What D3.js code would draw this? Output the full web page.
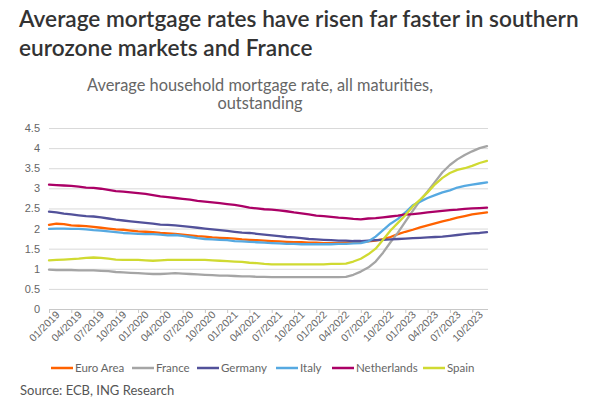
<!DOCTYPE html>
<html>
<head>
<meta charset="utf-8">
<script src="https://cdn.jsdelivr.net/npm/d3@7"></script>
<style>
  body { margin: 0; background: #fff; }
  svg { font-family: Lato, "Open Sans", sans-serif; }
</style>
</head>
<body>
<svg id="chart" width="600" height="417"></svg>
<script>
// monthly observations, 01/2019 .. 12/2023
var months = d3.timeMonth.range(new Date(2019, 0, 1), new Date(2024, 0, 1));
var tickLabels = ["01/2019","04/2019","07/2019","10/2019","01/2020","04/2020","07/2020","10/2020",
    "01/2021","04/2021","07/2021","10/2021","01/2022","04/2022","07/2022","10/2022",
    "01/2023","04/2023","07/2023","10/2023"];
var yTicks = [0, 0.5, 1, 1.5, 2, 2.5, 3, 3.5, 4, 4.5];

var euroArea = [2.09,2.12,2.11,2.08,2.07,2.06,2.04,2.02,2.00,1.98,1.97,1.95,1.93,1.92,1.91,1.89,1.88,1.87,1.85,1.83,
    1.81,1.80,1.78,1.77,1.76,1.75,1.73,1.72,1.71,1.70,1.69,1.68,1.67,1.66,1.66,1.65,1.65,1.64,1.64,1.64,
    1.65,1.66,1.67,1.68,1.70,1.74,1.79,1.86,1.92,1.97,2.03,2.08,2.13,2.18,2.22,2.27,2.31,2.35,2.38,2.40];
var france = [0.98,0.97,0.97,0.97,0.96,0.96,0.96,0.95,0.94,0.92,0.91,0.90,0.89,0.88,0.87,0.87,0.88,0.89,0.88,0.87,
    0.86,0.85,0.84,0.83,0.83,0.82,0.81,0.81,0.80,0.80,0.79,0.79,0.79,0.79,0.79,0.79,0.79,0.79,0.79,0.79,
    0.80,0.85,0.93,1.03,1.18,1.40,1.66,1.90,2.17,2.44,2.70,2.92,3.16,3.40,3.58,3.72,3.83,3.92,4.00,4.05];
var germany = [2.42,2.40,2.37,2.35,2.33,2.31,2.30,2.28,2.25,2.22,2.20,2.18,2.16,2.14,2.12,2.10,2.09,2.08,2.06,2.04,
    2.02,2.00,1.98,1.96,1.94,1.92,1.90,1.89,1.87,1.85,1.83,1.81,1.79,1.78,1.76,1.74,1.73,1.72,1.71,1.70,
    1.70,1.69,1.69,1.70,1.71,1.72,1.73,1.74,1.75,1.76,1.77,1.78,1.79,1.80,1.82,1.84,1.86,1.88,1.89,1.91];
var italy = [1.99,2.00,2.00,1.99,1.99,1.98,1.96,1.95,1.93,1.91,1.89,1.88,1.87,1.86,1.86,1.85,1.83,1.84,1.82,1.79,
    1.76,1.74,1.73,1.72,1.71,1.69,1.68,1.67,1.66,1.65,1.64,1.63,1.62,1.62,1.61,1.61,1.61,1.61,1.61,1.62,
    1.62,1.63,1.64,1.68,1.80,1.96,2.12,2.24,2.40,2.58,2.67,2.76,2.83,2.90,2.95,3.02,3.06,3.09,3.12,3.15];
var netherlands = [3.09,3.08,3.07,3.06,3.04,3.02,3.01,2.99,2.96,2.93,2.92,2.90,2.88,2.86,2.83,2.80,2.78,2.76,2.74,2.72,
    2.69,2.67,2.65,2.63,2.61,2.59,2.56,2.52,2.50,2.48,2.47,2.45,2.43,2.40,2.38,2.35,2.32,2.31,2.29,2.27,
    2.26,2.24,2.23,2.25,2.26,2.28,2.30,2.32,2.35,2.36,2.38,2.40,2.42,2.44,2.46,2.47,2.49,2.50,2.51,2.52];
var spain = [1.21,1.22,1.23,1.24,1.25,1.27,1.28,1.27,1.25,1.23,1.22,1.22,1.22,1.21,1.20,1.21,1.22,1.22,1.22,1.22,
    1.22,1.22,1.21,1.20,1.19,1.18,1.17,1.15,1.14,1.12,1.11,1.11,1.11,1.11,1.11,1.11,1.11,1.11,1.12,1.12,
    1.13,1.18,1.25,1.36,1.50,1.72,1.95,2.14,2.33,2.55,2.72,2.90,3.10,3.26,3.38,3.46,3.50,3.56,3.63,3.68];

var seriesNames = ["Euro Area", "France", "Germany", "Italy", "Netherlands", "Spain"];
var seriesColors = ["#ff6200", "#a5a5a5", "#52519a", "#56a9e1", "#ab0066", "#d0da32"];
var seriesValues = [euroArea, france, germany, italy, netherlands, spain];

var fmt = d3.timeFormat("%m/%Y");

var svg = d3.select("#chart"),
    margin = {top: 128, right: 115, bottom: 108, left: 49},
    width = 600 - margin.left - margin.right,
    height = 417 - margin.top - margin.bottom;

// squeeze a block of text to a target width
function fitWidth(sel, size, target) {
    var w = sel.select("text").node().getComputedTextLength();
    sel.style("font-size", (size * target / w) + "px");
}

// titles
var title = svg.append("g").attr("fill", "#333").style("font-size", "21px").style("font-weight", 600);
title.append("text").attr("x", 19).attr("y", 27).text("Average mortgage rates have risen far faster in southern");
title.append("text").attr("x", 19).attr("y", 56).text("eurozone markets and France");
fitWidth(title, 21, 560);

var sub = svg.append("g").attr("fill", "#666").style("font-size", "15px").attr("text-anchor", "middle");
sub.append("text").attr("x", 260).attr("y", 91).text("Average household mortgage rate, all maturities,");
sub.append("text").attr("x", 260).attr("y", 109).text("outstanding");
fitWidth(sub, 15, 346);

var g = svg.append("g").attr("transform", "translate(" + margin.left + "," + margin.top + ")");

var x = d3.scalePoint()
    .domain(months.map(fmt))
    .range([0, width + 2]);
var y = d3.scaleLinear()
    .domain([0, 4.5])
    .range([height, 0]);

// gridlines + y labels
var yAxis = g.append("g")
    .call(d3.axisLeft(y).tickValues(yTicks).tickSize(-(width + 3)).tickPadding(9).tickFormat(d3.format("")));
yAxis.select(".domain").remove();
yAxis.selectAll(".tick line").attr("stroke", "#d9d9d9");
yAxis.selectAll(".tick text").attr("fill", "#666").style("font-size", "11px");
yAxis.selectAll(".tick").filter(function (d) { return d === 0; }).select("line").attr("stroke", "#c8c8c8");

// x axis
var xAxis = g.append("g")
    .attr("transform", "translate(0," + height + ")")
    .call(d3.axisBottom(x).tickValues(tickLabels).tickSize(4).tickSizeOuter(0));
xAxis.select(".domain").attr("stroke", "#c8c8c8").attr("d", "M0,0.5H" + (width + 3));
xAxis.selectAll(".tick line").attr("stroke", "#c8c8c8");
xAxis.selectAll(".tick text")
    .attr("fill", "#666")
    .style("font-size", "10.5px")
    .style("text-anchor", "end")
    .attr("dx", "0.3em")
    .attr("dy", "0.5em")
    .attr("transform", "rotate(-45)");

// lines
var line = d3.line()
    .x(function (d, i) { return x(fmt(months[i])); })
    .y(function (d) { return y(d); });

g.append("g")
    .selectAll("path")
    .data(seriesValues)
    .join("path")
    .attr("fill", "none")
    .attr("stroke", function (d, i) { return seriesColors[i]; })
    .attr("stroke-width", 2.3)
    .attr("stroke-linejoin", "round")
    .attr("stroke-linecap", "round")
    .attr("d", line);

// legend
var legendX = [51, 132, 197, 276, 332, 423];
var legend = svg.append("g").attr("transform", "translate(0,368)");
var item = legend.selectAll("g")
    .data(seriesNames)
    .join("g")
    .attr("transform", function (d, i) { return "translate(" + legendX[i] + ",0)"; });
item.append("line")
    .attr("x1", 0).attr("x2", 22)
    .attr("stroke", function (d, i) { return seriesColors[i]; })
    .attr("stroke-width", 2.5);
item.append("text")
    .attr("x", 24)
    .attr("dy", "0.35em")
    .attr("fill", "#666")
    .style("font-size", "11.5px")
    .text(function (d) { return d; });

svg.append("text")
    .attr("x", 20).attr("y", 395)
    .attr("fill", "#555")
    .style("font-size", "13px")
    .text("Source: ECB, ING Research");
</script>
</body>
</html>
